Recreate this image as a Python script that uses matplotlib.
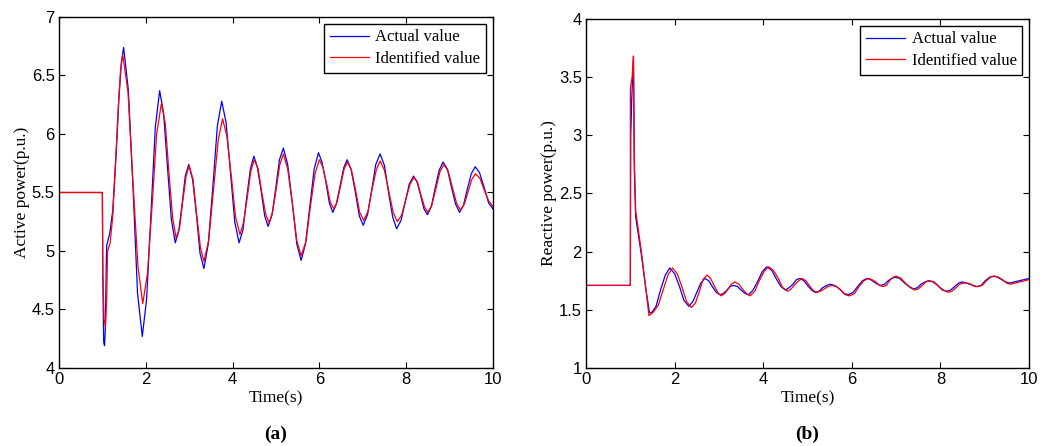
import numpy as np
from matplotlib import pyplot as plt
from matplotlib.ticker import FormatStrFormatter

# ---- (a) active power ----
t_pa_act = [0, 1.0, 1.01, 1.03, 1.05, 1.07, 1.09, 1.10, 1.17, 1.24, 1.32, 1.38, 1.44, 1.49,
            1.60, 1.71, 1.81, 1.92, 2.02, 2.12, 2.22, 2.32, 2.41, 2.50, 2.59, 2.68,
            2.76, 2.84, 2.91, 2.99, 3.08, 3.17, 3.25, 3.34, 3.44, 3.55, 3.65, 3.75,
            3.85, 3.95, 4.05, 4.15, 4.24, 4.32, 4.41, 4.49, 4.57, 4.66, 4.74, 4.82,
            4.91, 5.00, 5.08, 5.17, 5.27, 5.38, 5.48, 5.58, 5.68, 5.78, 5.88, 5.98,
            6.06, 6.15, 6.23, 6.31, 6.39, 6.48, 6.56, 6.64, 6.73, 6.83, 6.92, 7.01,
            7.11, 7.21, 7.30, 7.40, 7.50, 7.59, 7.69, 7.78, 7.88, 7.98, 8.07, 8.17,
            8.25, 8.33, 8.41, 8.49, 8.58, 8.67, 8.76, 8.85, 8.95, 9.04, 9.14, 9.23,
            9.32, 9.41, 9.50, 9.59, 9.69, 9.80, 9.90, 10.0]
pa_act = [5.5, 5.5, 4.8, 4.22, 4.19, 4.35, 4.9, 5.05, 5.15, 5.35, 5.85, 6.3, 6.62, 6.74,
          6.37, 5.51, 4.64, 4.27, 4.59, 5.32, 6.06, 6.37, 6.18, 5.72, 5.27, 5.07,
          5.17, 5.41, 5.64, 5.74, 5.61, 5.30, 4.98, 4.85, 5.06, 5.57, 6.07, 6.28,
          6.10, 5.68, 5.25, 5.07, 5.18, 5.44, 5.70, 5.81, 5.72, 5.51, 5.30, 5.21,
          5.31, 5.55, 5.78, 5.88, 5.74, 5.40, 5.06, 4.92, 5.06, 5.38, 5.70, 5.84,
          5.76, 5.59, 5.41, 5.33, 5.40, 5.56, 5.71, 5.78, 5.70, 5.50, 5.30, 5.22,
          5.31, 5.53, 5.74, 5.83, 5.73, 5.51, 5.29, 5.19, 5.26, 5.42, 5.57, 5.64,
          5.59, 5.48, 5.36, 5.31, 5.38, 5.54, 5.69, 5.76, 5.70, 5.55, 5.40, 5.33,
          5.39, 5.53, 5.66, 5.72, 5.67, 5.54, 5.41, 5.36]

t_pa_id = [0, 1.0, 1.01, 1.04, 1.07, 1.10, 1.12, 1.18, 1.24, 1.31, 1.37, 1.42, 1.47,
           1.59, 1.70, 1.82, 1.93, 2.04, 2.15, 2.25, 2.36, 2.45, 2.53, 2.62, 2.70,
           2.78, 2.85, 2.93, 3.00, 3.09, 3.17, 3.26, 3.34, 3.45, 3.56, 3.67, 3.77,
           3.87, 3.97, 4.07, 4.17, 4.25, 4.34, 4.42, 4.50, 4.59, 4.67, 4.76, 4.84,
           4.92, 5.01, 5.09, 5.17, 5.27, 5.38, 5.48, 5.58, 5.69, 5.79, 5.90, 6.00,
           6.08, 6.17, 6.25, 6.33, 6.41, 6.49, 6.57, 6.65, 6.74, 6.84, 6.93, 7.02,
           7.12, 7.21, 7.31, 7.40, 7.50, 7.60, 7.70, 7.80, 7.90, 7.99, 8.09, 8.18,
           8.26, 8.34, 8.42, 8.50, 8.59, 8.69, 8.78, 8.87, 8.97, 9.06, 9.16, 9.25,
           9.34, 9.43, 9.51, 9.60, 9.70, 9.80, 9.90, 10.0]
pa_id = [5.5, 5.5, 4.8, 4.42, 4.35, 4.6, 5.0, 5.07, 5.3, 5.8, 6.25, 6.55, 6.68,
         6.36, 5.62, 4.87, 4.55, 4.81, 5.41, 6.00, 6.26, 6.09, 5.69, 5.28, 5.11,
         5.20, 5.42, 5.64, 5.73, 5.61, 5.32, 5.03, 4.91, 5.09, 5.52, 5.95, 6.13,
         5.98, 5.64, 5.29, 5.14, 5.24, 5.46, 5.68, 5.78, 5.70, 5.51, 5.32, 5.24,
         5.33, 5.54, 5.74, 5.83, 5.70, 5.40, 5.09, 4.96, 5.08, 5.37, 5.66, 5.78,
         5.72, 5.57, 5.42, 5.36, 5.42, 5.56, 5.70, 5.76, 5.69, 5.51, 5.33, 5.26,
         5.34, 5.52, 5.69, 5.77, 5.69, 5.51, 5.33, 5.25, 5.31, 5.44, 5.57, 5.63,
         5.59, 5.48, 5.38, 5.33, 5.39, 5.54, 5.68, 5.74, 5.68, 5.55, 5.41, 5.35,
         5.40, 5.51, 5.61, 5.66, 5.62, 5.52, 5.43, 5.38]

# ---- (b) reactive power ----
t_qa_act = [0, 1.0, 1.01, 1.03, 1.07, 1.09, 1.12, 1.25, 1.35, 1.43, 1.47,
            1.58, 1.68, 1.79, 1.89, 2.00, 2.11, 2.21, 2.32, 2.41, 2.50, 2.59, 2.68,
            2.77, 2.85, 2.94, 3.02, 3.10, 3.18, 3.25, 3.33, 3.42, 3.50, 3.59, 3.67,
            3.77, 3.88, 3.98, 4.08, 4.19, 4.29, 4.40, 4.50, 4.58, 4.67, 4.75, 4.83,
            4.92, 5.00, 5.09, 5.17, 5.26, 5.34, 5.43, 5.51, 5.61, 5.72, 5.82, 5.92,
            6.03, 6.13, 6.24, 6.34, 6.42, 6.50, 6.58, 6.66, 6.74, 6.82, 6.90, 6.98,
            7.08, 7.19, 7.29, 7.39, 7.48, 7.56, 7.65, 7.73, 7.83, 7.94, 8.04, 8.14,
            8.23, 8.32, 8.41, 8.50, 8.58, 8.66, 8.74, 8.82, 8.92, 9.01, 9.11, 9.20,
            9.29, 9.38, 9.47, 9.56, 9.67, 9.78, 9.89, 10.0]
qa_act = [1.71, 1.71, 3.0, 3.3, 3.68, 2.7, 2.3, 1.97, 1.68, 1.48, 1.47,
          1.53, 1.67, 1.80, 1.86, 1.81, 1.70, 1.58, 1.53, 1.57, 1.65, 1.73, 1.77,
          1.75, 1.70, 1.65, 1.63, 1.64, 1.67, 1.70, 1.71, 1.70, 1.67, 1.64, 1.63,
          1.67, 1.75, 1.83, 1.87, 1.84, 1.77, 1.70, 1.67, 1.69, 1.72, 1.76, 1.77,
          1.75, 1.71, 1.67, 1.65, 1.66, 1.69, 1.71, 1.72, 1.71, 1.68, 1.64, 1.63,
          1.65, 1.70, 1.75, 1.77, 1.76, 1.74, 1.72, 1.71, 1.72, 1.75, 1.77, 1.78,
          1.77, 1.73, 1.70, 1.68, 1.69, 1.72, 1.74, 1.75, 1.74, 1.71, 1.67, 1.66,
          1.67, 1.70, 1.73, 1.74, 1.73, 1.72, 1.71, 1.70, 1.71, 1.75, 1.78, 1.79,
          1.78, 1.76, 1.74, 1.73, 1.74, 1.75, 1.76, 1.77]

t_qa_id = [0, 1.0, 1.0, 1.04, 1.07, 1.09, 1.12, 1.25, 1.35, 1.42, 1.45, 1.52,
           1.63, 1.74, 1.85, 1.95, 2.06, 2.17, 2.27, 2.38, 2.47, 2.56, 2.64, 2.73,
           2.81, 2.89, 2.97, 3.05, 3.13, 3.21, 3.28, 3.36, 3.45, 3.53, 3.62, 3.70,
           3.81, 3.91, 4.02, 4.12, 4.23, 4.34, 4.44, 4.55, 4.63, 4.72, 4.80, 4.88,
           4.96, 5.04, 5.12, 5.20, 5.29, 5.38, 5.46, 5.55, 5.65, 5.75, 5.85, 5.95,
           6.06, 6.16, 6.27, 6.37, 6.45, 6.54, 6.62, 6.70, 6.78, 6.85, 6.93, 7.00,
           7.11, 7.21, 7.32, 7.42, 7.50, 7.59, 7.67, 7.75, 7.86, 7.96, 8.07, 8.17,
           8.26, 8.35, 8.43, 8.52, 8.60, 8.69, 8.77, 8.85, 8.94, 9.04, 9.13, 9.22,
           9.31, 9.40, 9.49, 9.58, 9.68, 9.79, 9.90, 10.0]
qa_id = [1.71, 1.71, 3.4, 3.5, 3.68, 2.8, 2.35, 2.0, 1.68, 1.45, 1.46, 1.48,
         1.54, 1.67, 1.80, 1.86, 1.81, 1.69, 1.57, 1.52, 1.56, 1.66, 1.76, 1.80,
         1.77, 1.71, 1.65, 1.62, 1.64, 1.68, 1.72, 1.74, 1.72, 1.68, 1.64, 1.62,
         1.66, 1.75, 1.83, 1.87, 1.84, 1.77, 1.69, 1.66, 1.68, 1.72, 1.75, 1.77,
         1.75, 1.71, 1.67, 1.65, 1.66, 1.68, 1.70, 1.71, 1.70, 1.67, 1.63, 1.62,
         1.64, 1.70, 1.75, 1.77, 1.76, 1.74, 1.71, 1.70, 1.71, 1.75, 1.78, 1.79,
         1.77, 1.73, 1.69, 1.67, 1.68, 1.71, 1.74, 1.75, 1.74, 1.70, 1.67, 1.65,
         1.66, 1.69, 1.72, 1.73, 1.73, 1.72, 1.70, 1.70, 1.71, 1.75, 1.78, 1.79,
         1.78, 1.76, 1.73, 1.72, 1.73, 1.74, 1.75, 1.76]

xticks = [0, 2, 4, 6, 8, 10]
yticks_a = [4, 4.5, 5, 5.5, 6, 6.5, 7]
yticks_b = [1, 1.5, 2, 2.5, 3, 3.5, 4]

serif = 'Liberation Serif'
sans = 'Liberation Sans'

fig = plt.figure(figsize=(10.4, 4.46), dpi=100)
ax1 = fig.add_axes([0.0567, 0.1749, 0.4173, 0.787])
ax2 = fig.add_axes([0.5635, 0.1749, 0.426, 0.7825])

panels = [
    (ax1, t_pa_act, pa_act, t_pa_id, pa_id, yticks_a, 'Active power(p.u.)', '(a)'),
    (ax2, t_qa_act, qa_act, t_qa_id, qa_id, yticks_b, 'Reactive power(p.u.)', '(b)'),
]

for ax, ta, ya, ti, yi, yt, ylab, tag in panels:
    ax.plot(ta, ya, color='#0000ff', lw=0.9, label='Actual value')
    ax.plot(ti, yi, color='#ff0000', lw=0.9, label='Identified value')
    ax.set_xlim(0, 10)
    ax.set_ylim(yt[0], yt[-1])
    ax.set_xticks(xticks)
    ax.set_yticks(yt)
    ax.yaxis.set_major_formatter(FormatStrFormatter('%g'))
    ax.tick_params(direction='in', top=True, right=True, length=4, width=0.8,
                   labelsize=12, pad=3)
    for lab in ax.get_xticklabels() + ax.get_yticklabels():
        lab.set_family(sans)
    for s in ax.spines.values():
        s.set_linewidth(1.0)
    ax.set_xlabel('Time(s)', family=serif, fontsize=12.5, labelpad=2)
    ax.set_ylabel(ylab, family=serif, fontsize=12.5, labelpad=1)
    leg = ax.legend(loc='upper right', prop={'family': serif, 'size': 12},
                    fancybox=False, edgecolor='black', framealpha=1,
                    handlelength=2.35, borderaxespad=0.4, borderpad=0.35,
                    labelspacing=0.35, handletextpad=0.4)
    leg.get_frame().set_linewidth(1.0)
    ax.text(0.5, -0.165, tag, transform=ax.transAxes, ha='center', va='top',
            family=serif, fontsize=14, fontweight='bold')

fig.savefig('out.png', dpi=100)
